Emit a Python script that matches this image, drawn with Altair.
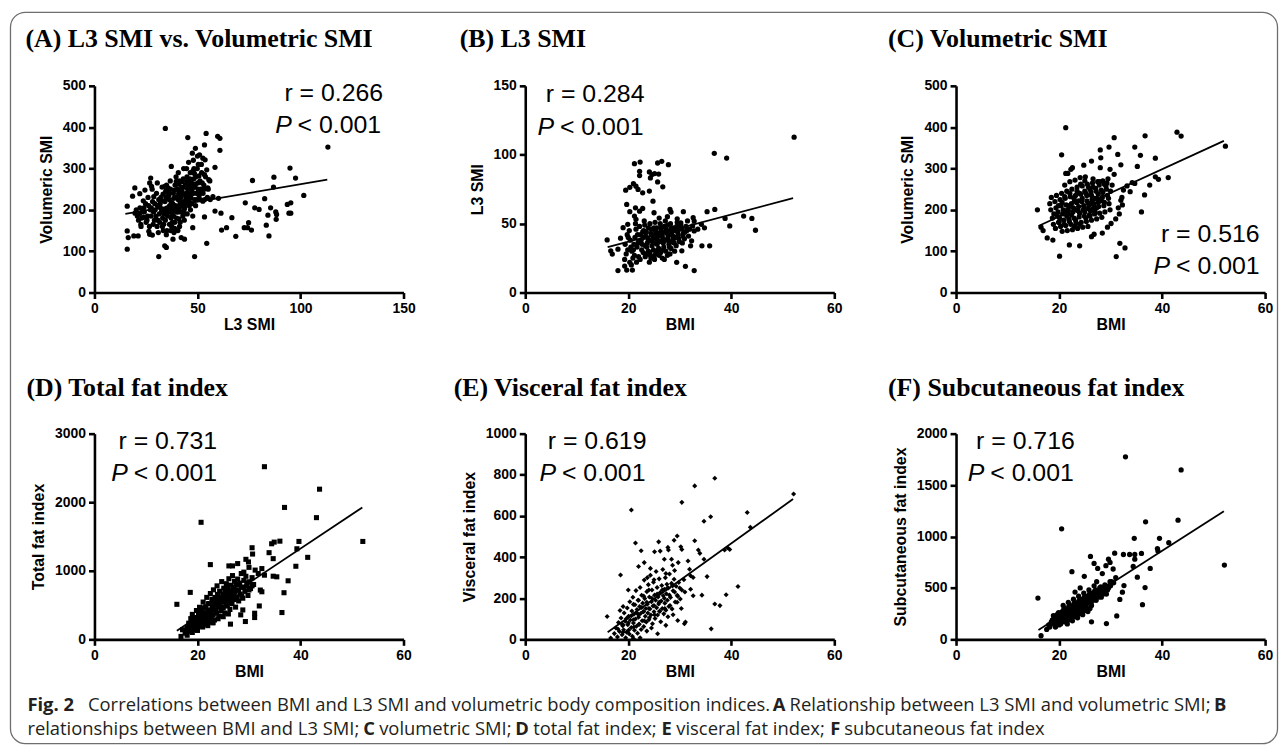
import altair as alt
import pandas as pd

# ------------------------------------------------------------------ data
A_PTS = [
    (34.4,397),(45.3,375),(54.2,385),(60.9,373),(59.8,378),(60.9,344),(49.0,349),(113.3,352),
    (94.9,301),(97.6,277),(101.6,235),(87.1,279),(76.7,271),(82.6,227),(86.9,255),(77.8,205),
    (73.2,217),(79.9,201),(84.2,187),(85.5,205),(88.0,195),(88.4,189),(88.2,177),(93.6,213),
    (95.3,217),(94.4,192),(95.3,192),(83.4,163),(84.7,137),(74.8,169),(74.3,157),(76.2,151),
    (72.7,157),(68.6,136),(66.7,181),(64.1,157),(61.7,151),(61.4,192),(58.5,197),(53.4,183),
    (54.5,119),(48.6,87),(31.2,87),(15.9,105),(15.9,149),(16.4,133),(15.9,209),(18.5,233),
    (19.6,253),(22.0,239),(27.3,277),(26.8,265),(27.7,257),(30.5,265),(37.3,305),(34.1,257),
    (35.7,253),(39.7,269),(19.1,137),(21.2,137),(26.8,141),(28.1,139),(34.1,113),(34.9,109),
    (42.1,133),(43.7,129),(38.1,129),(47.7,157),(52.6,221),(55.0,253),(55.5,273),(53.4,285),
    (54.5,297),(58.5,303),(51.0,333),(52.6,325),(53.7,321),(53.4,357),(47.5,337),(48.3,300),
    (50.4,310),(56.2,225),(57.5,232),(60.2,228),
    (20.3,200),(20.8,185),(21.4,175),(19.7,192),(22.6,160),(22.1,205),(23.0,180),(22.5,165),
    (23.7,222),(21.9,190),(24.2,195),(24.8,215),(25.1,170),(24.5,248),(23.9,182),(26.3,210),
    (26.0,230),(26.7,160),(25.8,185),(27.1,200),(26.4,148),(28.2,220),(28.7,195),(28.0,250),
    (29.1,175),(28.5,165),(27.6,205),(30.1,240),(30.6,210),(29.8,185),(31.2,225),(30.4,160),
    (31.0,145),(29.5,200),(32.3,230),(32.0,205),(32.8,255),(33.1,180),(31.7,170),(32.5,195),
    (33.4,150),(31.9,215),(34.2,220),(34.6,245),(33.8,190),(35.0,260),(34.4,175),(35.3,205),
    (33.6,165),(34.9,140),(35.6,235),(36.1,235),(36.5,210),(36.9,250),(35.8,195),(37.2,180),
    (36.3,225),(37.5,160),(36.8,270),(37.0,150),(38.3,240),(38.0,215),(38.7,200),(39.1,260),
    (38.4,185),(39.4,230),(37.8,170),(38.9,155),(39.6,280),(38.2,205),(40.2,250),(40.6,225),
    (40.0,205),(41.1,270),(40.4,195),(41.5,215),(39.8,180),(40.9,240),(41.3,160),(40.7,290),
    (42.3,255),(42.0,230),(42.7,210),(43.1,275),(41.8,195),(42.5,245),(43.4,220),(42.9,185),
    (41.6,170),(43.3,300),(44.2,260),(44.6,240),(44.0,220),(44.9,280),(43.8,205),(45.3,250),
    (44.4,230),(45.0,190),(44.7,300),(43.6,175),(45.8,270),(46.2,245),(45.5,225),(46.5,290),
    (46.0,210),(45.7,315),(47.1,265),(47.4,250),(46.8,230),(47.9,295),(47.3,215),(48.2,275),
    (46.6,200),(48.0,320),(47.7,185),(49.2,280),(48.8,255),(49.5,240),(49.9,300),(48.6,225),
    (50.2,265),(49.1,210),(50.0,330),(51.2,270),(51.6,250),(50.8,235),(52.0,290),(51.4,225),
    (51.9,310),(53.1,260),(52.7,240),(53.5,225),(53.9,280),(55.2,250),(54.8,230),(56.0,270),
    (31.5,190),(32.7,222),(33.3,238),(34.0,200),(34.8,230),(35.5,185),(36.2,242),(36.7,200),
    (37.3,218),(37.7,190),(38.5,228),(38.9,248),(39.3,210),(39.9,195),(40.3,232),(40.8,262),
    (41.2,205),(41.7,245),(42.2,218),(42.6,268),(43.0,238),(43.5,200),(43.9,255),(44.3,215),
    (44.8,268),(45.2,232),(45.6,258),(46.1,220),(46.4,275),(46.9,240),(47.6,258),(48.1,240),
    (48.5,288),(49.0,262),(49.6,225),(50.3,250),(50.7,282),(51.1,240),(52.3,265),(53.2,250),
    (36.4,165),(39.0,170),(41.0,178),(43.2,190),(38.6,145),(40.5,150),(35.2,150),(33.0,160),
    (30.8,175),(29.3,215),(28.8,232),(27.4,185),(25.5,175),(24.0,205),(23.2,195),
]
A_LINE_X = [15, 113]
A_LINE_Y = [190, 273]

B_PTS = [
    (52.2,112.7),(36.7,101),(39.1,97.6),(21.2,93.5),(22.3,94.7),(25.7,94),(26.5,95.2),(27.8,92.8),
    (22.2,88),(22.2,84.9),(24.1,87.5),(24.6,85.6),(24.3,83.2),(25.1,86.3),(25.9,86),(25.7,80.3),
    (26.7,76.7),(21.0,79),(21.5,77.2),(21.9,74.8),(19.5,74.3),(20.3,76.4),(22.8,72.4),(24.1,73.6),
    (24.8,66.3),(19.7,63.9),(21.4,61.5),(22.8,61),(20.3,58.7),(21.2,55.5),(21.5,53.1),(22.2,59),
    (25.0,57.9),(28.1,60.3),(28.3,58.4),(30.7,58.7),(35.3,58.7),(36.8,60.3),(42.4,55.5),(44.0,53.8),
    (38.8,53.8),(39.7,48.3),(44.7,45.2),(34.2,49.5),(32.8,44.7),(32.5,48.3),(32.6,54.3),(32.8,51.9),
    (34.3,33.9),(35.8,33.9),(32.3,37.5),(32.1,33.9),(32.8,15.9),(31.1,19),(29.4,21.9),(30.4,30.3),
    (18.0,15.9),(19.7,16.3),(20.8,16.3),(19.3,19.2),(20.3,21.9),(15.9,38.2),(16.9,27.9),(16.6,30.3),
    (18.0,31.5),(18.5,39.4),(19.0,47.1),(19.9,49.5),(31.5,52),(33.5,46),(34.8,47),(30.2,50.5),
    (29.5,53.5),(27.6,55),
    (19.4,35),(19.6,28),(19.8,42),(19.3,24),(20.4,38),(20.7,30),(20.2,45),(20.9,25),(20.5,33),
    (20.6,20),(21.3,40),(21.7,33),(21.5,46),(21.2,27),(21.9,36),(21.6,22),(21.4,50),(22.4,42),
    (22.7,35),(22.2,48),(22.9,29),(22.5,38),(22.3,24),(22.8,44),(22.6,31),(23.4,41),(23.7,36),
    (23.2,49),(23.9,30),(23.5,44),(23.3,26),(23.8,39),(23.6,33),(23.1,52),(24.4,43),(24.7,37),
    (24.2,50),(24.9,31),(24.5,46),(24.3,27),(24.8,40),(24.6,34),(24.1,22),(25.0,47),(25.4,44),
    (25.7,38),(25.2,51),(25.9,32),(25.5,47),(25.3,28),(25.8,41),(25.6,35),(25.1,24),(26.0,54),
    (26.4,45),(26.7,39),(26.2,50),(26.9,33),(26.5,42),(26.3,29),(26.8,36),(26.6,25),(27.0,48),
    (27.4,46),(27.7,40),(27.2,52),(27.9,35),(27.5,43),(27.3,30),(27.8,38),(27.6,27),(28.4,47),
    (28.7,41),(28.2,50),(28.9,36),(28.5,44),(28.3,32),(28.8,39),(29.4,48),(29.7,42),(29.2,45),
    (29.9,37),(29.5,51),(29.3,34),(30.4,46),(30.7,43),(30.2,49),(30.9,39),(30.5,36),(31.4,45),
    (31.7,41),(31.2,48),
    (20.0,40),(21.0,31),(21.8,42),(22.0,37),(22.9,40),(23.0,45),(23.3,34),(23.9,47),(24.0,38),
    (24.2,29),(24.6,42),(24.9,36),(25.1,40),(25.3,45),(25.6,30),(25.9,43),(26.1,37),(26.3,47),
    (26.6,41),(26.8,31),(27.1,44),(27.3,38),(27.6,49),(27.9,42),(28.0,33),(28.3,45),(28.6,37),
    (28.9,47),(29.1,40),(29.6,44),(29.8,39),(30.0,47),(30.6,41),(31.0,44),(31.9,46),(23.6,28),
    (24.4,25),(25.0,26),(26.0,27),(27.0,24),(22.0,26),(21.1,35),(19.9,31),(28.1,28),(29.0,30),
]
B_LINE_X = [16, 52]
B_LINE_Y = [33, 68.5]

C_PTS = [
    (21.3,398.7),(42.9,388),(43.7,378.6),(36.7,379),(30.7,374.6),(29.7,352),(34.7,352),(31.4,334),
    (35.8,332),(20.5,333),(28.0,345),(28.1,326),(38.7,325),(35.2,305),(32.0,309),(26.3,318),
    (24.8,308),(22.6,302),(22.3,298),(21.3,288),(21.7,288),(28.0,302),(29.9,298),(30.7,286),
    (41.2,278),(39.3,274),(38.7,280),(37.6,260),(36.6,236),(36.0,195),(34.2,266),(34.7,264),
    (33.8,244),(32.5,248),(32.2,230),(32.0,223),(31.5,205),(32.3,212),(31.7,190),(31.0,178),
    (30.1,167),(29.4,158),(28.4,144),(26.3,135),(26.8,141),(31.8,119),(32.8,108),(31.1,87),
    (20.1,88),(15.8,200),(16.5,158),(16.9,150),(17.7,132),(18.8,127),(22.0,115),(24.0,113),
    (52.3,354),(33.2,258),
    (18.4,200),(18.7,180),(18.2,215),(18.9,165),(18.5,230),(19.4,205),(19.7,185),(19.2,220),
    (19.9,170),(19.5,235),(19.3,155),(19.8,195),(20.4,210),(20.7,190),(20.2,225),(20.9,175),
    (20.5,240),(20.3,160),(20.8,200),(20.6,148),(21.4,212),(21.7,192),(21.2,228),(21.9,178),
    (21.5,245),(21.3,162),(21.8,202),(21.6,150),(21.1,260),(22.4,215),(22.7,195),(22.2,232),
    (22.9,180),(22.5,250),(22.3,165),(22.8,205),(22.6,152),(22.1,268),(23.0,222),(23.4,218),
    (23.7,198),(23.2,235),(23.9,183),(23.5,255),(23.3,168),(23.8,208),(23.6,155),(23.1,272),
    (24.0,240),(24.4,220),(24.7,200),(24.2,238),(24.9,185),(24.5,258),(24.3,170),(24.8,210),
    (24.6,158),(24.1,278),(25.0,245),(25.4,222),(25.7,203),(25.2,240),(25.9,188),(25.5,262),
    (25.3,172),(25.8,212),(25.6,160),(25.1,280),(26.0,250),(26.4,225),(26.7,205),(26.2,243),
    (26.9,190),(26.5,265),(26.3,175),(26.8,215),(26.6,255),(27.0,195),(27.4,228),(27.7,208),
    (27.2,245),(27.9,192),(27.5,268),(27.3,178),(27.8,260),(27.6,218),(28.4,230),(28.7,210),
    (28.2,248),(28.9,195),(28.5,270),(28.3,182),(28.8,262),(29.4,235),(29.7,215),(29.2,250),
    (29.9,200),(29.5,275),(29.3,265),
    (19.0,190),(19.9,210),(20.1,180),(20.6,218),(21.0,198),(21.1,232),(21.5,185),(22.0,210),
    (22.1,240),(22.4,188),(22.9,228),(23.0,200),(23.2,175),(23.5,245),(23.8,222),(24.0,192),
    (24.2,262),(24.5,228),(24.9,205),(25.0,270),(25.2,180),(25.4,235),(25.7,255),(26.0,215),
    (26.1,198),(26.3,235),(26.6,275),(26.9,228),(27.1,252),(27.3,205),(27.6,238),(27.9,268),
    (28.1,222),(28.5,242),(28.8,218),(29.1,258),(29.6,228),(30.0,245),(30.3,260),(20.0,170),
    (21.0,165),(22.0,172),(23.0,160),(24.0,165),(25.0,195),(26.0,185),
]
C_LINE_X = [16, 52]
C_LINE_Y = [161, 367]

D_PTS = [
    (33.0,2518),(43.7,2190),(36.9,1924),(43.1,1775),(20.7,1707),(52.1,1428),(39.7,1428),(36.0,1432),
    (34.9,1418),(34.4,1394),(39.3,1321),(41.4,1196),(39.1,1066),(30.6,1336),(30.7,1244),(33.9,1264),
    (34.7,1177),(37.6,854),(36.8,680),(36.4,391),(34.7,921),(35.4,912),(32.5,1032),(33.0,936),
    (32.2,719),(32.5,694),(32.0,487),(31.1,381),(31.1,318),(29.3,260),(26.4,222),(28.8,429),
    (28.4,357),(22.5,1090),(26.1,1071),(26.8,1071),(27.8,1105),(29.4,1167),(29.9,1129),(18.6,685),
    (16.0,511),(16.8,43),(17.1,140),(17.7,116),(18.4,188),(19.0,309),(19.4,260),(31.8,960),
    (31.2,1010),(30.0,1050),(29.0,980),
    (18.1,152),(18.3,236),(18.5,118),(18.7,302),(18.9,190),(19.0,364),(19.2,254),(19.3,140),
    (19.5,318),(19.6,206),(19.8,420),(19.9,276),(20.0,172),(20.2,352),(20.3,238),(20.4,468),
    (20.6,298),(20.7,196),(20.8,410),(21.0,326),(21.1,544),(21.2,258),(21.3,388),(21.5,222),
    (21.6,476),(21.7,338),(21.8,612),(21.9,284),(22.0,430),(22.2,366),(22.3,520),(22.4,252),
    (22.5,668),(22.6,404),(22.7,318),(22.8,584),(22.9,462),(23.0,356),(23.1,722),(23.2,498),
    (23.3,282),(23.4,612),(23.5,430),(23.6,540),(23.7,380),(23.8,780),(23.9,656),(24.0,470),
    (24.1,566),(24.2,340),(24.3,702),(24.4,512),(24.5,610),(24.6,418),(24.7,842),(24.8,548),
    (24.9,664),(25.0,458),(25.1,746),(25.2,590),(25.3,384),(25.4,700),(25.5,520),(25.6,812),
    (25.7,630),(25.8,486),(25.9,742),(26.0,560),(26.1,884),(26.2,668),(26.3,436),(26.4,790),
    (26.5,600),(26.6,712),(26.7,520),(26.8,930),(26.9,640),(27.0,760),(27.1,580),(27.2,846),
    (27.3,690),(27.4,470),(27.5,800),(27.6,620),(27.8,880),(27.9,720),(28.0,560),(28.2,820),
    (28.3,660),(28.5,960),(28.6,760),(28.8,600),(29.0,860),(29.2,700),(29.4,920),(29.6,780),
    (29.8,640),(30.0,840),(30.3,740),(30.6,900),(30.9,800),(21.0,180),(22.0,200),(23.0,240),
    (19.0,100),(20.0,130),(17.6,90),(18.0,60),
    (19.0,220),(19.6,310),(20.0,270),(20.6,410),(21.0,320),(21.1,460),(21.6,380),(22.0,350),
    (22.1,520),(22.6,420),(23.0,470),(23.1,560),(23.6,400),(24.0,520),(24.1,610),(24.6,470),
    (25.0,580),(25.1,650),(25.6,500),(26.0,620),(26.1,700),(26.6,540),(27.0,680),(27.1,760),
    (27.6,590),(28.0,720),(28.1,800),(28.6,630),(29.0,760),(29.6,820),(30.0,720),(30.6,780),
    (22.0,280),(23.0,250),(24.0,300),(25.0,330),(26.0,370),(20.0,200),(21.0,250),(18.0,170),
]
D_LINE_X = [16, 52]
D_LINE_Y = [125, 1924]

E_PTS = [
    (36.8,783),(32.9,746),(52.1,707),(30.4,666),(20.6,629),(43.1,617),(36.0,596),(34.7,574),
    (43.7,545),(29.5,502),(28.9,482),(32.9,479),(25.9,474),(21.4,468),(30.2,450),(30.4,437),
    (27.7,447),(27.8,434),(33.6,434),(33.9,418),(39.3,445),(39.7,437),(38.7,434),(34.7,389),
    (22.5,431),(18.5,313),(23.1,373),(22.0,354),(25.1,426),(26.2,429),(27.0,389),(28.4,389),
    (29.7,373),(31.6,381),(31.9,341),(32.1,309),(32.6,301),(35.3,305),(32.1,244),(32.6,212),
    (34.3,215),(39.0,217),(41.3,257),(36.8,172),(37.8,164),(36.1,51),(31.1,84),(30.9,76),
    (29.6,92),(27.3,68),(25.7,27),(15.9,111),(16.6,6),(28.6,360),(29.0,335),(27.3,320),
    (24.3,345),(23.7,300),(30.8,290),(31.0,230),(29.5,180),(30.3,150),(28.7,120),
    (17.3,28),(17.6,55),(17.9,12),(18.1,82),(18.3,38),(18.6,104),(18.8,22),(18.9,66),(19.1,47),
    (19.2,128),(19.4,88),(19.5,8),(19.7,35),(19.8,152),(19.9,71),(20.1,112),(20.2,26),(20.3,183),
    (20.4,94),(20.6,58),(20.7,138),(20.8,15),(20.9,205),(21.0,80),(21.1,122),(21.2,44),(21.3,168),
    (21.4,99),(21.5,237),(21.6,64),(21.7,145),(21.8,30),(21.9,190),(22.0,108),(22.1,72),
    (22.2,160),(22.3,252),(22.4,126),(22.5,48),(22.6,214),(22.7,90),(22.8,176),(22.9,134),
    (23.0,62),(23.1,288),(23.2,198),(23.3,112),(23.4,150),(23.5,84),(23.6,232),(23.7,171),
    (23.8,128),(23.9,266),(24.0,95),(24.1,206),(24.2,148),(24.3,312),(24.4,118),(24.5,183),
    (24.6,240),(24.7,76),(24.8,162),(24.9,278),(25.0,134),(25.1,215),(25.2,101),(25.3,190),
    (25.4,330),(25.5,154),(25.6,252),(25.7,118),(25.8,206),(25.9,172),(26.0,294),(26.1,138),
    (26.2,228),(26.3,86),(26.4,186),(26.5,262),(26.6,150),(26.7,340),(26.8,212),(26.9,124),
    (27.0,244),(27.1,176),(27.2,300),(27.3,142),(27.4,222),(27.5,268),(27.6,190),(27.7,110),
    (27.8,250),(27.9,160),(28.0,318),(28.2,204),(28.4,272),(28.5,148),(28.7,236),(28.9,292),
    (29.1,182),(29.3,258),(29.5,214),(29.8,276),(30.1,196),(30.4,240),(22.3,8),(21.0,4),
    (23.6,40),(24.5,55),(19.0,160),(20.0,240),(18.4,140),
    (18.0,50),(18.8,75),(19.0,35),(19.6,100),(20.0,80),(20.1,45),(20.6,115),(21.0,95),(21.1,60),
    (21.6,130),(22.0,120),(22.1,75),(22.6,155),(23.0,135),(23.1,90),(23.6,180),(24.0,150),
    (24.1,105),(24.6,200),(25.0,165),(25.1,120),(25.6,220),(26.0,180),(26.1,135),(26.6,240),
    (27.0,200),(27.1,150),(27.6,250),(28.0,215),(28.1,165),(28.6,260),(29.0,230),(29.6,210),
    (30.0,250),(22.0,190),(23.0,210),(24.0,240),(25.0,290),(21.0,170),(20.0,110),(19.0,70),
]
E_LINE_X = [16, 52]
E_LINE_Y = [35, 682]

F_PTS = [
    (32.9,1775),(43.7,1647),(20.5,1075),(43.1,1159),(36.8,1143),(52.1,722),(34.6,982),(39.5,982),
    (41.3,940),(39.1,883),(39.2,860),(33.7,825),(34.7,825),(36.0,835),(34.7,780),(34.4,709),
    (37.7,690),(35.2,604),(36.7,504),(36.2,337),(32.5,825),(30.8,838),(29.6,780),(29.9,748),
    (26.1,806),(26.8,738),(22.5,658),(24.9,613),(29.1,716),(30.5,684),(32.6,523),(32.3,459),
    (31.8,388),(31.2,228),(29.2,154),(26.3,170),(15.9,401),(16.5,35),(17.6,96),(31.0,600),
    (30.2,560),(28.4,640),(27.5,690),
    (18.4,150),(18.7,190),(18.2,120),(18.9,230),(18.5,170),(19.4,180),(19.7,220),(19.2,140),
    (19.9,260),(19.5,200),(19.3,120),(20.4,210),(20.7,250),(20.2,170),(20.9,290),(20.5,230),
    (20.3,150),(20.8,330),(21.4,240),(21.7,280),(21.2,200),(21.9,320),(21.5,260),(21.3,180),
    (21.8,360),(21.6,150),(22.4,270),(22.7,310),(22.2,230),(22.9,350),(22.5,290),(22.3,210),
    (22.8,390),(22.6,180),(23.4,300),(23.7,340),(23.2,260),(23.9,380),(23.5,320),(23.3,240),
    (23.8,420),(23.6,210),(23.1,460),(24.4,330),(24.7,370),(24.2,290),(24.9,410),(24.5,350),
    (24.3,270),(24.8,450),(24.6,240),(24.1,500),(25.4,360),(25.7,400),(25.2,320),(25.9,440),
    (25.5,380),(25.3,300),(25.8,480),(25.6,270),(26.4,390),(26.7,430),(26.2,350),(26.9,470),
    (26.5,410),(26.3,330),(26.8,520),(27.4,420),(27.7,460),(27.2,380),(27.9,500),(27.5,440),
    (27.3,560),(28.4,450),(28.7,490),(28.2,410),(28.9,530),(28.5,470),(29.4,480),(29.7,520),
    (29.2,440),(29.9,560),
    (19.0,160),(19.6,240),(20.0,200),(20.6,270),(21.0,220),(21.1,300),(21.6,230),(22.0,250),
    (22.1,330),(22.6,260),(23.0,280),(23.1,360),(23.6,290),(24.0,310),(24.1,390),(24.6,320),
    (25.0,340),(25.1,420),(25.6,350),(26.0,370),(26.1,450),(26.6,380),(27.0,400),(27.1,480),
    (27.6,410),(28.0,430),(28.1,510),(28.6,440),(29.0,460),(29.6,500),(30.0,520),(30.6,550),
    (21.0,170),(22.0,190),(23.0,220),(24.0,250),(25.0,280),(20.0,140),(18.0,140),(26.0,300),
]
F_LINE_X = [16, 52]
F_LINE_Y = [90, 1245]

TITLES = ["(A) L3 SMI vs. Volumetric SMI", "(B) L3 SMI", "(C) Volumetric SMI",
          "(D) Total fat index", "(E) Visceral fat index", "(F) Subcutaneous fat index"]
R_TEXT = ["r = 0.266", "r = 0.284", "r = 0.516", "r = 0.731", "r = 0.619", "r = 0.716"]
X_TITLES = ["L3 SMI", "BMI", "BMI", "BMI", "BMI", "BMI"]
Y_TITLES = ["Volumeric SMI", "L3 SMI", "Volumeric SMI", "Total fat index",
            "Visceral fat index", "Subcutaneous fat index"]
X_DOMAINS = [[0, 150], [0, 60], [0, 60], [0, 60], [0, 60], [0, 60]]
X_TICKS = [[0, 50, 100, 150], [0, 20, 40, 60], [0, 20, 40, 60],
           [0, 20, 40, 60], [0, 20, 40, 60], [0, 20, 40, 60]]
Y_DOMAINS = [[0, 500], [0, 150], [0, 500], [0, 3000], [0, 1000], [0, 2000]]
Y_TICKS = [[0, 100, 200, 300, 400, 500], [0, 50, 100, 150], [0, 100, 200, 300, 400, 500],
           [0, 1000, 2000, 3000], [0, 200, 400, 600, 800, 1000], [0, 500, 1000, 1500, 2000]]

CAPTION_1 = [("Fig. 2", True),
             ("Correlations between BMI and L3 SMI and volumetric body composition indices.", False),
             ("A", True), ("Relationship between L3 SMI and volumetric SMI;", False), ("B", True)]
CAPTION_2 = [("relationships between BMI and L3 SMI;", False), ("C", True),
             ("volumetric SMI;", False), ("D", True), ("total fat index;", False),
             ("E", True), ("visceral fat index;", False), ("F", True),
             ("subcutaneous fat index", False)]

# ------------------------------------------------------------------ layout (pixels)
W, H1, H2 = 311, 208, 207
COL_X = [94.5, 528, 961.5]        # page x of each column's plot area
ROW_Y = [84, 434]                 # page y of each row's plot area
TITLE_PAGE_X = [25, 462, 893, 26, 456, 893]
TITLE_DY = [-39, -39, -39, -38, -38, -38]
ANN_PAGE_X = [(385, 383), (648, 647), (1267, 1267), (218, 218), (650, 649), (1081, 1080)]
ANN_DY = [(15.5, 47), (16.5, 49), (157, 189), (15, 48), (15, 48), (15, 48)]
SHAPES = ["circle", "circle", "circle", "square", "diamond", "circle"]
SIZES = [28, 28, 28, 26, 26, 28]
ANN_FS = 25
P_GAP = 91       # width of " < 0.001" at ANN_FS

CAP1_X = [27, 88, 777, 794, 1221]
CAP2_X = [27, 365, 381, 518, 536, 665, 680, 835, 849]
CAP_Y = [713, 737]
CAP_FS = 18.5


def one(text):
    return alt.Chart(pd.DataFrame({"t": [text]}))


def panel(i, pts, lx, ly):
    col, row = i % 3, i // 3
    h = H1 if row == 0 else H2
    ox, oy = COL_X[col], ROW_Y[row]
    df = pd.DataFrame(pts, columns=["x", "y"])
    ldf = pd.DataFrame({"x": lx, "y": ly})
    xenc = alt.X("x:Q", scale=alt.Scale(domain=X_DOMAINS[i], nice=False, zero=False),
                 axis=alt.Axis(values=X_TICKS[i], title=X_TITLES[i], format="d"))
    yenc = alt.Y("y:Q", scale=alt.Scale(domain=Y_DOMAINS[i], nice=False, zero=False),
                 axis=alt.Axis(values=Y_TICKS[i], title=Y_TITLES[i], format="d"))
    layers = []
    pts_layer = alt.Chart(df).mark_point(shape=SHAPES[i], filled=True, size=SIZES[i],
                                         color="black", opacity=1).encode(x=xenc, y=yenc)
    line_layer = alt.Chart(ldf).mark_line(color="black", strokeWidth=1.8).encode(x=xenc, y=yenc)
    layers += [pts_layer, line_layer]
    layers.append(one(TITLES[i]).mark_text(align="left", baseline="alphabetic",
                  font="Liberation Serif", fontWeight="bold", fontSize=26, color="black")
                  .encode(text="t:N", x=alt.value(TITLE_PAGE_X[i] - ox), y=alt.value(TITLE_DY[i])))
    rx, px = ANN_PAGE_X[i]
    ry, py = ANN_DY[i]
    layers.append(one(R_TEXT[i]).mark_text(align="right", baseline="alphabetic",
                  font="Liberation Sans", fontSize=ANN_FS, color="black")
                  .encode(text="t:N", x=alt.value(rx - ox), y=alt.value(ry)))
    layers.append(one("< 0.001").mark_text(align="right", baseline="alphabetic",
                  font="Liberation Sans", fontSize=ANN_FS, color="black")
                  .encode(text="t:N", x=alt.value(px - ox), y=alt.value(py)))
    layers.append(one("P").mark_text(align="right", baseline="alphabetic",
                  font="Liberation Sans", fontStyle="italic", fontSize=ANN_FS, color="black")
                  .encode(text="t:N", x=alt.value(px - ox - P_GAP + 1), y=alt.value(py)))
    if i == 3:
        # figure frame and caption, positioned relative to this cell
        frame = one("").mark_rect(fill="white", fillOpacity=0, stroke="#6e6e6e",
                                  strokeWidth=1.3, cornerRadius=15).encode(
            x=alt.value(10 - ox), x2=alt.value(1285 - ox),
            y=alt.value(10 - oy), y2=alt.value(746 - oy))
        layers.insert(0, frame)
        for segs, xs_, yp in ((CAPTION_1, CAP1_X, CAP_Y[0]), (CAPTION_2, CAP2_X, CAP_Y[1])):
            for (txt, bold), xp in zip(segs, xs_):
                layers.append(one(txt).mark_text(align="left", baseline="alphabetic",
                              font="Open Sans", fontSize=CAP_FS, color="#231f20",
                              fontWeight="bold" if bold else "normal")
                              .encode(text="t:N", x=alt.value(xp - ox), y=alt.value(yp - oy)))
    return alt.layer(*layers).properties(width=W, height=h)


panels = [panel(0, A_PTS, A_LINE_X, A_LINE_Y), panel(1, B_PTS, B_LINE_X, B_LINE_Y),
          panel(2, C_PTS, C_LINE_X, C_LINE_Y), panel(3, D_PTS, D_LINE_X, D_LINE_Y),
          panel(4, E_PTS, E_LINE_X, E_LINE_Y), panel(5, F_PTS, F_LINE_X, F_LINE_Y)]

chart = alt.concat(*panels, columns=3, bounds="flush",
                   spacing={"row": 142, "column": 122.5}).properties(
    padding={"left": 1, "top": 1, "right": 0, "bottom": 0},
    background="white",
).configure_view(strokeWidth=0).configure_axis(
    grid=False, domainColor="black", domainWidth=2.6, tickColor="black", tickWidth=2.6,
    tickSize=6, labelFont="Liberation Sans", labelFontWeight=700, labelFontSize=14,
    labelColor="black", labelPadding=3, labelFlush=False, labelOverlap=False,
    titleFont="Liberation Sans", titleFontWeight=700, titleFontSize=16, titleColor="black",
).configure_axisX(titlePadding=1).configure_axisY(titlePadding=8)

chart.save("out.html", embed_options={"renderer": "svg", "actions": False})
